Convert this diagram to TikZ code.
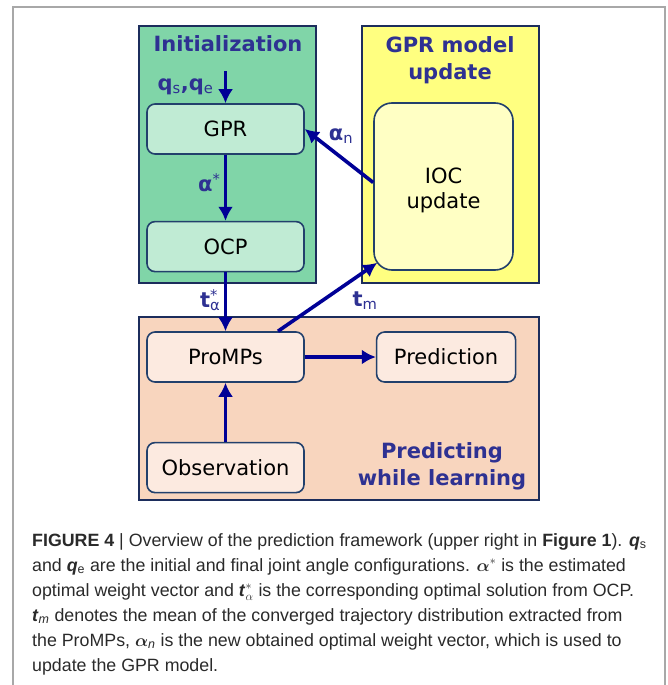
\documentclass[tikz,border=0pt]{standalone}
\usepackage{amsmath}
\usepackage{bm}
\usepackage{fontspec}
\setmainfont{Liberation Sans}
\newfontfamily\diagfont{DejaVu Sans}
\usepackage{tikz}
\usetikzlibrary{arrows.meta}
\usetikzlibrary{fit,positioning}

\definecolor{initgreen}{HTML}{80D5A8}
\definecolor{initnode}{HTML}{C0EBD4}
\definecolor{gpryellow}{HTML}{FFFF80}
\definecolor{iocfill}{HTML}{FFFFC4}
\definecolor{predpeach}{HTML}{F8D5BE}
\definecolor{prednode}{HTML}{FCEAE0}
\definecolor{boxnavy}{HTML}{1C2D5C}
\definecolor{nodenavy}{HTML}{22406C}
\definecolor{titleblue}{HTML}{2E3192}
\definecolor{arrowblue}{HTML}{000096}
\definecolor{framegray}{HTML}{A8A8A8}
\definecolor{captext}{HTML}{2A2A2A}

\begin{document}
\begin{tikzpicture}[x=1pt, y=-1pt, font=\diagfont]
	\tikzstyle{group}=[rectangle, draw=boxnavy, line width=1.2pt, inner sep=0pt]
	\tikzstyle{main}=[rectangle, rounded corners=8pt, draw=nodenavy, line width=1.6pt, minimum width=157pt, minimum height=50pt, font=\diagfont\fontsize{21}{25}\selectfont, text=black]
	\tikzstyle{title}=[font=\diagfont\bfseries\fontsize{21}{27}\selectfont, text=titleblue, align=center]
	\tikzstyle{lbl}=[font=\diagfont\bfseries\fontsize{21}{25}\selectfont, text=titleblue]
	\tikzstyle{connect}=[-{Latex[length=14pt,width=15pt]}, line width=3.6pt, draw=arrowblue]

	\useasboundingbox (0,0) rectangle (667,685);
	\draw[framegray, line width=1.2pt] (13,685) -- (13,7) -- (665,7) -- (665,685);

	% the three blocks
	\node[group, fill=initgreen, minimum width=177pt, minimum height=257pt] (init) at (227.5,154.5) {};
	\node[group, fill=gpryellow, minimum width=177pt, minimum height=257pt] (upd) at (450.5,154.5) {};
	\node[group, fill=predpeach, minimum width=400pt, minimum height=183pt] (pwl) at (339,408.5) {};

	\node[title] (tinit) at (228,43.5) {Initialization};
	\node[title] (tupd) at (450,60.5) {GPR model\\update};
	\node[title] (tpwl) at (442,466.5) {Predicting\\while learning};

	\node[main, fill=initnode] (gpr) at (225.5,129) {GPR};
	\node[main, fill=initnode] (ocp) [below=66pt of gpr] {OCP};

	\node[main, fill=iocfill, minimum width=139pt, minimum height=167pt, rounded corners=18pt, align=center] (ioc) at (443.5,186.5) {\rule{0pt}{24pt}IOC\\update};

	\node[main, fill=prednode] (promp) at (225.5,357) {ProMPs};
	\node[main, fill=prednode, minimum width=139pt] (pred) [right=71pt of promp] {Prediction};
	\node[main, fill=prednode] (obs) [below=59pt of promp] {Observation};

	\coordinate (qin) at (225.5,71);

	\path (qin) edge [connect] node[lbl, left=7pt] {q\textsubscript{\mdseries s},q\textsubscript{\mdseries e}} (gpr)
	(gpr) edge [connect] node[lbl, left, pos=0.42] {α\textsuperscript{\mdseries *}} (ocp)
	(ocp) edge [connect] node[lbl, left, pos=0.47] {t\rlap{\textsuperscript{\mdseries *}}\textsubscript{\mdseries α}} (promp)

	([xshift=52.5pt]promp.north) edge [connect] node[lbl, below right, pos=0.7, yshift=-3pt] {t\textsubscript{\mdseries m}} ([shift={(4,-8)}]ioc.south west)
	([yshift=4pt]ioc.west) edge [connect] node[lbl, above, pos=0.47, yshift=9pt] {α\textsubscript{\mdseries n}} (gpr.east)

	(promp) edge [connect] (pred)
	(obs) edge [connect] (promp);

	% caption
	\node[anchor=north west, align=left, inner sep=0pt, text=captext, font=\fontsize{17.8}{25}\selectfont] (cap) at (32,533) {\textbf{FIGURE 4} | Overview of the prediction framework (upper right in \textbf{Figure 1}). \textbf{\textit{q}}\textsubscript{s}\\
	and \textbf{\textit{q}}\textsubscript{e} are the initial and final joint angle configurations. $\boldsymbol{\alpha}^{*}$ is the estimated\\
	optimal weight vector and \textbf{\textit{t}}$^{*}_{\alpha}$ is the corresponding optimal solution from OCP.\\
	\textbf{\textit{t}}\textsubscript{\textit{m}} denotes the mean of the converged trajectory distribution extracted from\\
	the ProMPs, $\boldsymbol{\alpha}$\textsubscript{\textit{n}} is the new obtained optimal weight vector, which is used to\\
	update the GPR model.};
\end{tikzpicture}
\end{document}
